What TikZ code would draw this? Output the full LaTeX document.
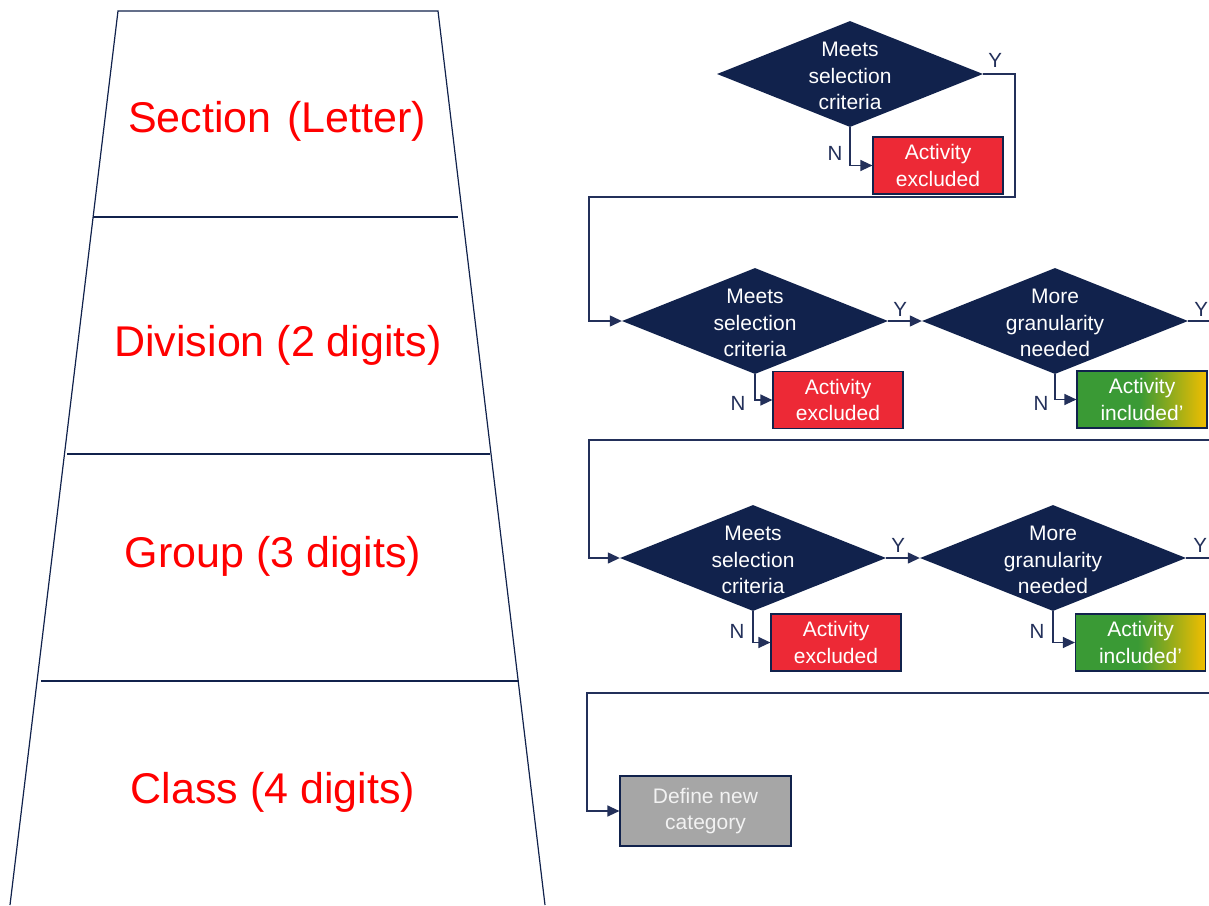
\documentclass[tikz,border=0pt]{standalone}
\usepackage{fontspec}
\setmainfont{Liberation Sans}
\usetikzlibrary{shapes.geometric,arrows.meta}
\definecolor{navy}{RGB}{17,34,76}
\definecolor{linec}{RGB}{35,48,90}
\definecolor{exred}{RGB}{237,41,54}
\definecolor{ingreen}{RGB}{58,154,53}
\definecolor{inyellow}{RGB}{242,190,0}
\definecolor{boxgray}{RGB}{166,166,166}
\pgfdeclarehorizontalshading{greenyellow}{100bp}{color(0bp)=(ingreen); color(25bp)=(ingreen); color(49bp)=(ingreen); color(75bp)=(inyellow); color(100bp)=(inyellow)}
\tikzset{
  dia/.style={shape=diamond, fill=navy, draw=none, minimum width=266pt, minimum height=106pt, inner sep=0pt},
  dtext/.style={text=white, align=center, font=\fontsize{21}{26.5}\selectfont, inner sep=0pt},
  boxbase/.style={draw=navy, line width=1.2pt, minimum width=130pt, minimum height=57pt, inner sep=0pt, text=white, align=center, font=\fontsize{21}{26.5}\selectfont},
  exbox/.style={boxbase, fill=exred},
  inbox/.style={boxbase, shading=greenyellow},
  newbox/.style={boxbase, fill=boxgray, text={rgb,255:red,242;green,242;blue,242}, minimum width=171pt, minimum height=70pt},
  yn/.style={text=linec, font=\fontsize{20.5}{24}\selectfont, inner sep=0pt},
  conn/.style={draw=linec, line width=1.3pt},
  arr/.style={conn, -{Triangle[length=12pt,width=11pt]}},
  trapline/.style={draw=navy, line width=1.2pt},
  traptext/.style={text={rgb,255:red,255;green,0;blue,0}, font=\fontsize{43}{50}\selectfont, inner sep=0pt}
}
\begin{document}
\begin{tikzpicture}[x=1pt,y=-1pt]
\useasboundingbox (0,0) rectangle (1209,905);
\clip (0,0) rectangle (1209,905);
\fill[white] (0,0) rectangle (1209,905);

% trapezoid
\draw[trapline] (10,905) -- (118,11) -- (438,11) -- (545,905);
\draw[trapline] (93,217) -- (458,217);
\draw[trapline] (67,454) -- (490,454);
\draw[trapline] (41,681) -- (519,681);
\node[traptext] (tsec) at (277,121) {Section\hspace{4pt} (Letter)};
\node[traptext] (tdiv) at (278,345) {Division (2 digits)};
\node[traptext] (tgrp) at (273,556) {Group (3 digits)};
\node[traptext] (tcls) at (273,792) {Class (4 digits)};

% row 1
\node[dia] (d1) at (850,74) {};
\node[dtext] (d1t) at ([yshift=-2pt]d1.center) {Meets\\selection\\criteria};
\node[exbox] (r1) at (938,165.5) {Activity\\excluded};

% row 2
\node[dia] (d2) at (755,321) {};
\node[dtext] (d2t) at ([yshift=-2pt]d2.center) {Meets\\selection\\criteria};
\node[dia] (d3) at (1055,321) {};
\node[dtext] (d3t) at ([yshift=-2pt]d3.center) {More\\granularity\\needed};
\node[exbox] (r2) at (838,400) {Activity\\excluded};
\node[inbox] (g2) at (1142,399.5) {Activity\\included’};

% row 3
\node[dia] (d4) at (753,558) {};
\node[dtext] (d4t) at ([yshift=-2pt]d4.center) {Meets\\selection\\criteria};
\node[dia] (d5) at (1053,558) {};
\node[dtext] (d5t) at ([yshift=-2pt]d5.center) {More\\granularity\\needed};
\node[exbox] (r3) at (836,642.5) {Activity\\excluded};
\node[inbox] (g3) at (1140.5,642.5) {Activity\\included’};

% row 4
\node[newbox] (nb) at (705.5,811) {Define new\\category};

% helper coordinates
\coordinate (k1a) at (1015,197);
\coordinate (k1b) at (589,197);
\coordinate (k2a) at (1230,440);
\coordinate (k2b) at (589,440);
\coordinate (k3a) at (1230,693);
\coordinate (k3b) at (587,693);

% connectors
\draw[arr] (d1.south) |- (r1.west);
\draw[arr] (d1.east) -| (k1a) -- (k1b) |- (d2.west);
\draw[arr] (d2.south) |- (r2.west);
\draw[arr] (d2.east) -- (d3.west);
\draw[arr] (d3.south) |- (g2.west);
\draw[arr] (d3.east) -| (k2a) -- (k2b) |- (d4.west);
\draw[arr] (d4.south) |- (r3.west);
\draw[arr] (d4.east) -- (d5.west);
\draw[arr] (d5.south) |- (g3.west);
\draw[arr] (d5.east) -| (k3a) -- (k3b) |- (nb.west);

% Y / N labels
\node[yn] (y1) at ([shift={(12,-14)}]d1.east) {Y};
\node[yn] (n1) at ([shift={(-15,26)}]d1.south) {N};
\node[yn] (y2) at ([shift={(12,-12)}]d2.east) {Y};
\node[yn] (n2) at ([shift={(-17,29)}]d2.south) {N};
\node[yn] (y3) at ([shift={(13,-12)}]d3.east) {Y};
\node[yn] (n3) at ([shift={(-14,29)}]d3.south) {N};
\node[yn] (y4) at ([shift={(12,-13)}]d4.east) {Y};
\node[yn] (n4) at ([shift={(-16,20)}]d4.south) {N};
\node[yn] (y5) at ([shift={(14,-13)}]d5.east) {Y};
\node[yn] (n5) at ([shift={(-16,20)}]d5.south) {N};
\end{tikzpicture}
\end{document}
